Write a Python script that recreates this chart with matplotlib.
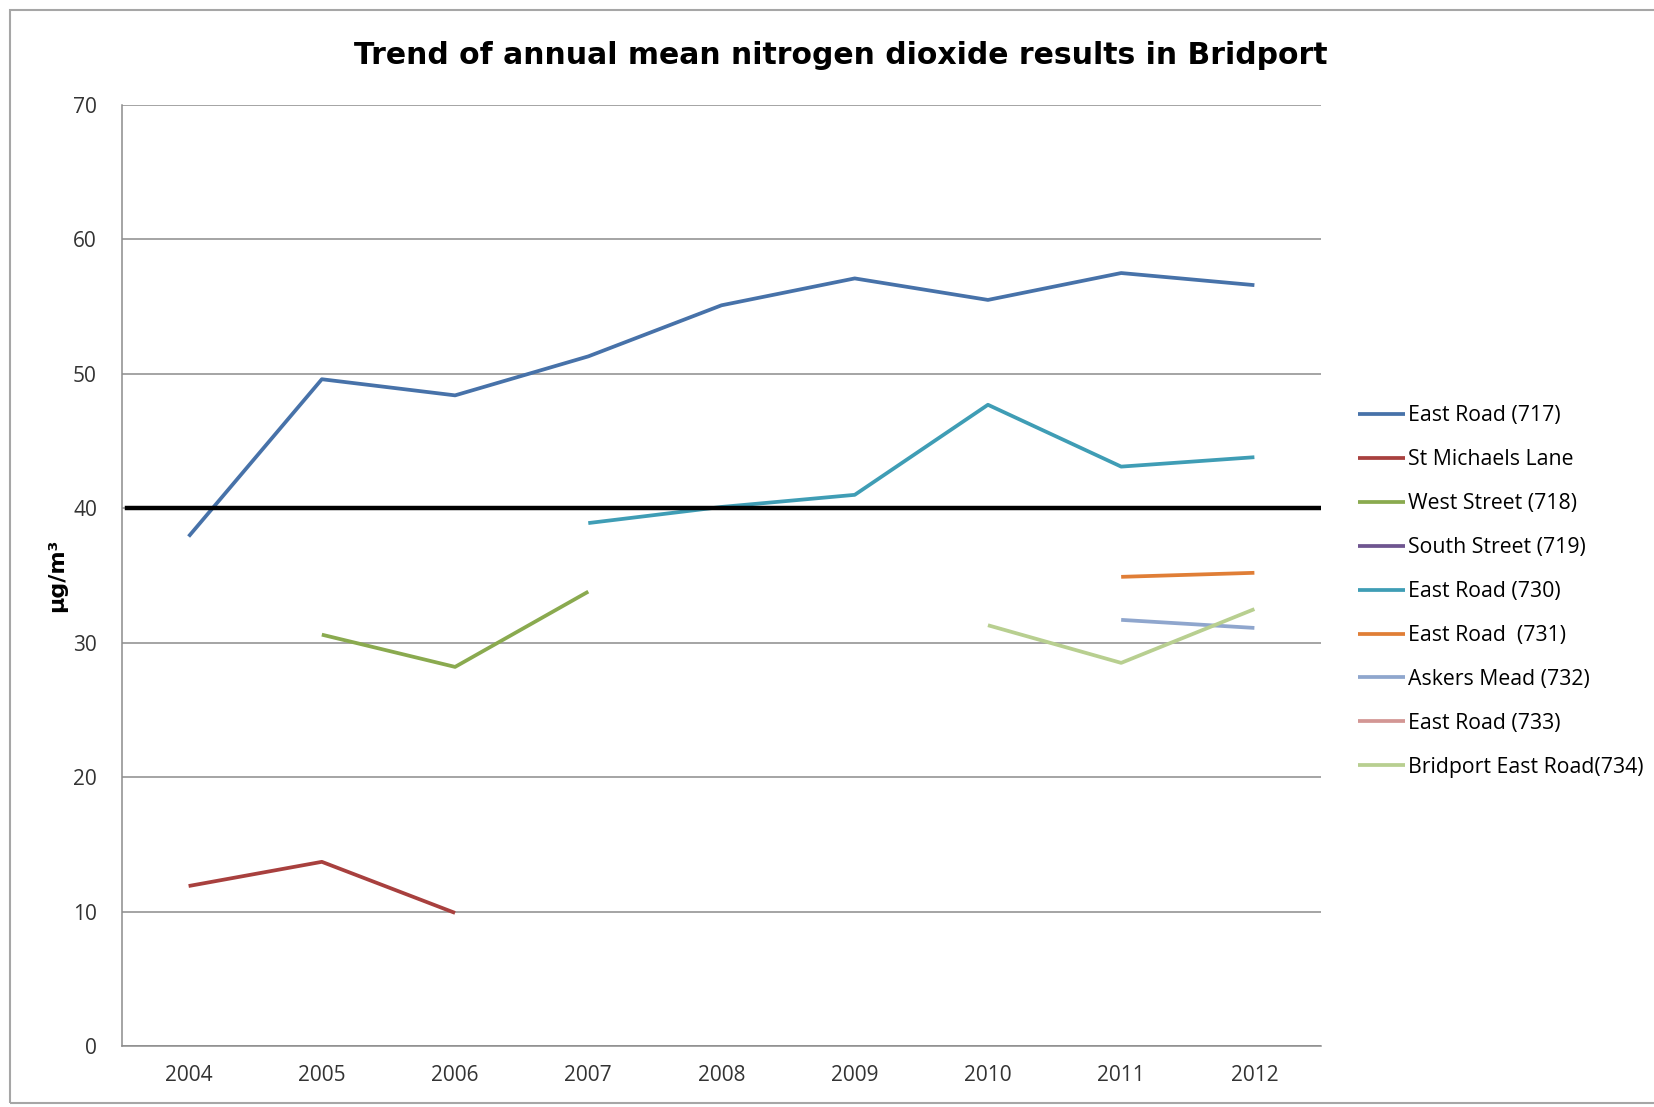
import matplotlib.pyplot as plt
import numpy as np
from matplotlib.patches import Rectangle

years = ["2004", "2005", "2006", "2007", "2008", "2009", "2010", "2011", "2012"]
nan = np.nan

east_road_717 = [37.9, 49.6, 48.4, 51.3, 55.1, 57.1, 55.5, 57.5, 56.6]
st_michaels_lane = [11.9, 13.7, 9.9, nan, nan, nan, nan, nan, nan]
west_street_718 = [nan, 30.6, 28.2, 33.8, nan, nan, nan, nan, nan]
south_street_719 = [nan] * 9
east_road_730 = [nan, nan, nan, 38.9, 40.1, 41.0, 47.7, 43.1, 43.8]
east_road_731 = [nan, nan, nan, nan, nan, nan, nan, 34.9, 35.2]
askers_mead_732 = [nan, nan, nan, nan, nan, nan, nan, 31.7, 31.1]
east_road_733 = [nan] * 9
bridport_east_road_734 = [nan, nan, nan, nan, nan, nan, 31.3, 28.5, 32.5]

series_names = [
    "East Road (717)", "St Michaels Lane", "West Street (718)",
    "South Street (719)", "East Road (730)", "East Road  (731)",
    "Askers Mead (732)", "East Road (733)", "Bridport East Road(734)",
]
series_values = [
    east_road_717, st_michaels_lane, west_street_718, south_street_719,
    east_road_730, east_road_731, askers_mead_732, east_road_733,
    bridport_east_road_734,
]
colors = ["#4772A9", "#A8403E", "#8AAA4F", "#6F5590", "#3F9DB5",
          "#E07E36", "#8FA6CD", "#D39694", "#B8CF90"]

limit_value = 40

fig = plt.figure(figsize=(16.54, 11.07), dpi=100)
fig.patches.append(Rectangle((10 / 1654, 4 / 1107), 1.0, 1093 / 1107,
                             transform=fig.transFigure, fill=False,
                             edgecolor="#a6a6a6", linewidth=1.5))

ax = fig.add_axes([122 / 1654, 1 - 1046 / 1107, 1199 / 1654, 941 / 1107])
x = np.arange(len(years))

for name, vals, col in zip(series_names, series_values, colors):
    ax.plot(x, vals, color=col, linewidth=2.7, label=name,
            solid_capstyle="butt")

ax.axhline(limit_value, xmin=0.004, color="black", linewidth=3.2, zorder=3)

ax.set_xlim(-0.5, len(years) - 0.5)
ax.set_ylim(0, 70)
ax.set_yticks(range(0, 71, 10))
ax.set_xticks(x)
ax.set_xticklabels(years)
ax.yaxis.grid(True, color="#8c8c8c", linewidth=1.1)
ax.set_axisbelow(True)
for s in ["top", "right"]:
    ax.spines[s].set_visible(False)
for s in ["left", "bottom"]:
    ax.spines[s].set_color("#8c8c8c")
    ax.spines[s].set_linewidth(1.1)
ax.tick_params(axis="y", length=0, labelsize=15, colors="#333333", pad=18)
ax.tick_params(axis="x", length=0, labelsize=15, colors="#333333", pad=14)
for lab in ax.get_xticklabels() + ax.get_yticklabels():
    lab.set_family("Open Sans")

ax.set_ylabel("µg/m³", fontsize=16, fontweight="bold", labelpad=4)

fig.text(841 / 1654, 1 - 55 / 1107,
         "Trend of annual mean nitrogen dioxide results in Bridport",
         ha="center", va="center", fontsize=21.5, fontweight="bold",
         family="DejaVu Sans")

ax.legend(loc="center left", bbox_to_anchor=(1.015, 0.483), frameon=False,
          handlelength=2.2, handletextpad=0.15, labelspacing=1.08,
          prop={"family": "Open Sans", "size": 15.3})

fig.savefig("out.png", dpi=100)
